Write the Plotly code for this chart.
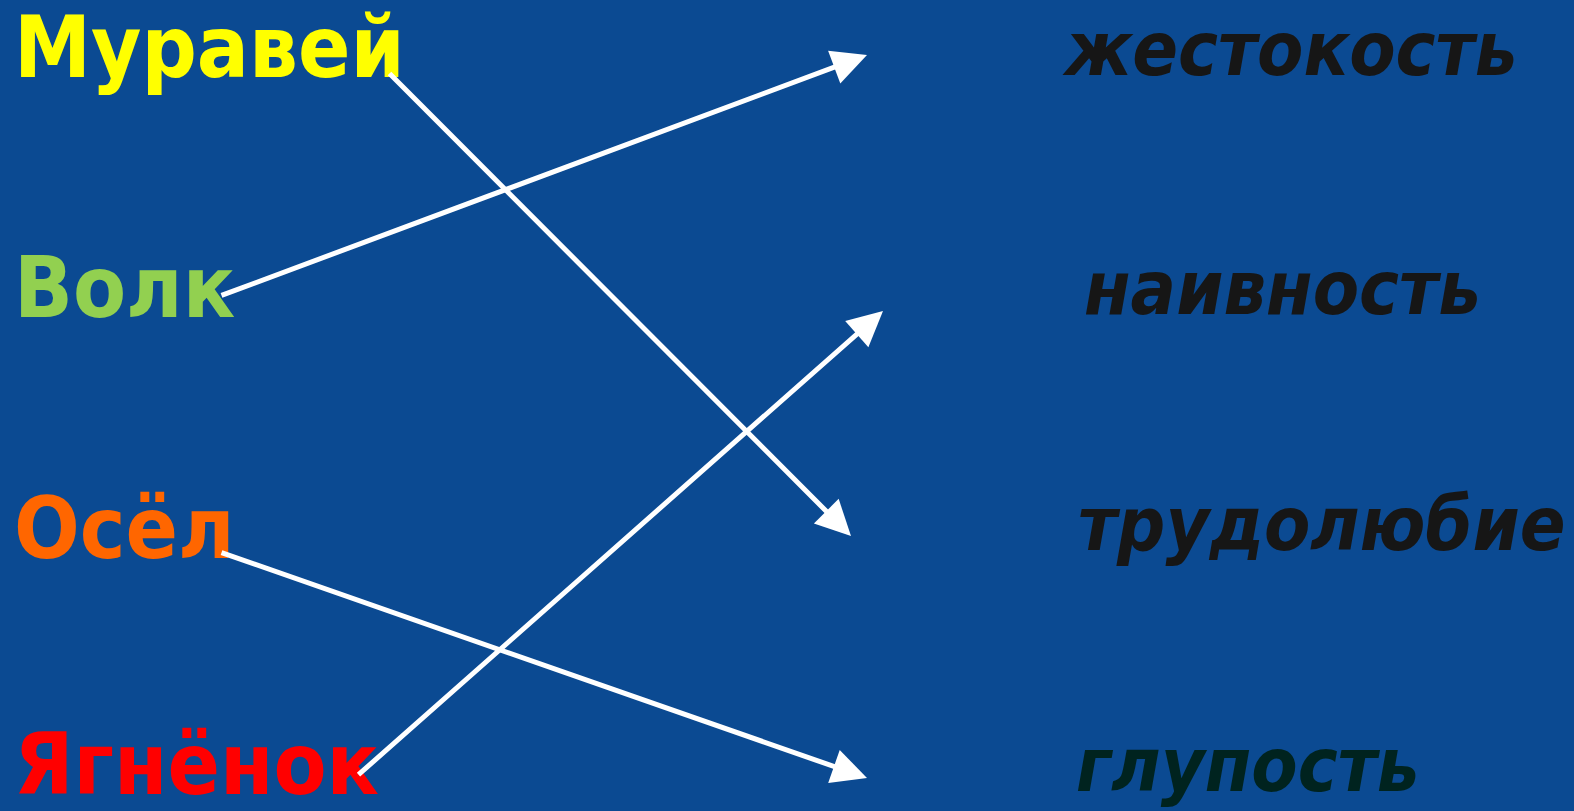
import plotly.graph_objects as go

W, H = 1574, 811

# Left column: animals
animals = ["Муравей", "Волк", "Осёл", "Ягнёнок"]
animal_colors = ["#ffff00", "#92d050", "#ff6600", "#ff0000"]
animal_y = [47, 287, 528, 764]

# Right column: traits
traits = ["жестокость", "наивность", "трудолюбие", "глупость"]
trait_colors = ["#161616", "#161616", "#161616", "#00231f"]
trait_x = [1060, 1082, 1076, 1074]
trait_y = [49, 288, 524, 765]

# Arrows (start -> tip) connecting animal to trait
arrow_from = [(388, 72), (220, 296), (220, 552), (357, 776)]
arrow_to = [(851, 536), (867, 55), (867, 778), (883, 311)]

BG = "#0b4a92"
FONT_L = "DejaVu Sans Condensed"
FONT_R = "DejaVu Sans Condensed"

fig = go.Figure()

annotations = []
for name, col, y in zip(animals, animal_colors, animal_y):
    annotations.append(dict(
        x=12, y=y, xref="x", yref="y", text=f"<b>{name}</b>", showarrow=False,
        xanchor="left", yanchor="middle",
        font=dict(family=FONT_L, size=86, color=col)))
for name, col, x, y in zip(traits, trait_colors, trait_x, trait_y):
    annotations.append(dict(
        x=x, y=y, xref="x", yref="y", text=f"<b><i>{name}</i></b>", showarrow=False,
        xanchor="left", yanchor="middle",
        font=dict(family=FONT_R, size=75, color=col)))
for (sx, sy), (tx, ty) in zip(arrow_from, arrow_to):
    annotations.append(dict(
        x=tx, y=ty, ax=sx, ay=sy, xref="x", yref="y", axref="x", ayref="y",
        text="", showarrow=True, arrowhead=2, arrowsize=1.4, arrowwidth=5,
        arrowcolor="white"))

fig.update_layout(
    width=W, height=H, margin=dict(l=0, r=0, t=0, b=0),
    paper_bgcolor=BG, plot_bgcolor=BG,
    xaxis=dict(range=[0, W], visible=False, fixedrange=True),
    yaxis=dict(range=[H, 0], visible=False, fixedrange=True),
    annotations=annotations, showlegend=False,
)

fig.write_html("out.html", config={"displayModeBar": False},
               post_script="document.body.style.margin='0';document.body.style.overflow='hidden';")
